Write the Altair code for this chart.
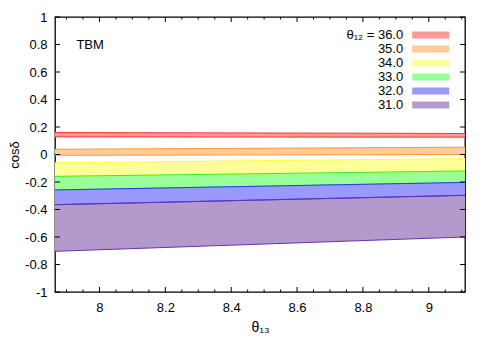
import altair as alt
import pandas as pd

# ---- data ----
theta13 = [7.865, 9.11]                      # x at left / right edge of the plot
bands = ["36.0", "35.0", "34.0", "33.0", "32.0", "31.0"]   # theta12 values
hi_left  = [0.160, 0.038, -0.060, -0.159, -0.258, -0.365]
hi_right = [0.153, 0.053, -0.030, -0.120, -0.203, -0.297]
lo_left  = [0.128, -0.006, -0.159, -0.258, -0.365, -0.704]
lo_right = [0.126, 0.000, -0.120, -0.203, -0.297, -0.600]

y_ticks = [-1.0, -0.8, -0.6, -0.4, -0.2, 0.0, 0.2, 0.4, 0.6, 0.8, 1.0]
x_major = [8.0, 8.2, 8.4, 8.6, 8.8, 9.0]
x_minor = [7.9, 7.95, 8.05, 8.1, 8.15, 8.25, 8.3, 8.35, 8.45, 8.5, 8.55,
           8.65, 8.7, 8.75, 8.85, 8.9, 8.95, 9.05, 9.1]

# ---- styles ----
fill_colors = ["#ff9999", "#ffcc99", "#ffff99", "#99ff99", "#9999ff", "#b399cc"]
line_colors = ["#ff3333", "#ff9933", "#ffff33", "#33ee33", "#3333ff", "#6633aa"]
FONT = "Liberation Sans"
W, H = 410, 275

rows = []
for i, b in enumerate(bands):
    rows.append({"x": theta13[0], "hi": hi_left[i], "lo": lo_left[i], "band": b})
    rows.append({"x": theta13[1], "hi": hi_right[i], "lo": lo_right[i], "band": b})
df = pd.DataFrame(rows)

xs = alt.Scale(domain=[theta13[0], theta13[1]], nice=False, zero=False)
ys = alt.Scale(domain=[-1, 1], nice=False, zero=False)

x_axis = alt.Axis(values=x_major, format="~g", ticks=False, domain=False, grid=False,
                  labelOverlap=False,
                  labelFontSize=13, labelFont=FONT, labelPadding=9, labelColor="black",
                  title="θ₁₃", titleFont=FONT, titleFontSize=14, titleFontWeight="normal",
                  titlePadding=6, titleColor="black")
y_axis = alt.Axis(values=y_ticks, ticks=False, domain=False, grid=False,
                  labelOverlap=False,
                  labelExpr="toString(round(datum.value*10)/10)",
                  labelFontSize=13, labelFont=FONT, labelPadding=8, labelColor="black",
                  title="cosδ", titleFont=FONT, titleFontSize=13, titleFontWeight="normal",
                  titleX=-40.5, titleY=H / 2, titleBaseline="middle", titleAngle=270,
                  titleColor="black")

# swatches only (fill legend)
swatch_legend = alt.Legend(orient="none", legendX=365.75, legendY=8, title=None, padding=0,
                           symbolType="M-1.9,-0.36L1.9,-0.36L1.9,0.36L-1.9,0.36Z",
                           symbolSize=380, symbolStrokeWidth=0, symbolOpacity=1,
                           labelFontSize=1, labelExpr="''", rowPadding=0)
# labels only (stroke legend)
label_legend = alt.Legend(orient="none", legendX=368.6, legendY=10.9, title=None, padding=0,
                          symbolType="M-2.685,-0.508L2.685,-0.508L2.685,0.508L-2.685,0.508Z",
                          symbolSize=190, symbolStrokeWidth=0, symbolOpacity=0,
                          labelAlign="right", labelOffset=alt.ExprRef("-34.4"),
                          labelFontSize=13, labelFont=FONT, labelColor="black",
                          rowPadding=0, clipHeight=13.8,
                          labelExpr="datum.label == '36.0' ? 'θ₁₂ = 36.0' : datum.label")

X = lambda f: alt.X(f, scale=xs, axis=x_axis)
Y = lambda f: alt.Y(f, scale=ys, axis=y_axis, stack=None)

base = alt.Chart(df)
area = base.mark_area(opacity=1).encode(
    x=X("x:Q"), y=Y("hi:Q"), y2="lo:Q",
    fill=alt.Fill("band:N", scale=alt.Scale(domain=bands, range=fill_colors),
                  legend=swatch_legend),
)
line_lo = base.mark_line(strokeWidth=1).encode(
    x=X("x:Q"), y=Y("lo:Q"),
    stroke=alt.Stroke("band:N", scale=alt.Scale(domain=bands, range=line_colors), legend=None),
)
line_hi = base.mark_line(strokeWidth=1).encode(
    x=X("x:Q"), y=Y("hi:Q"),
    stroke=alt.Stroke("band:N", scale=alt.Scale(domain=bands, range=line_colors),
                      legend=label_legend),
)

label = alt.Chart(pd.DataFrame({"x": [7.93], "y": [0.8], "t": ["TBM"]})).mark_text(
    align="left", baseline="middle", fontSize=13, font=FONT, color="black"
).encode(x=X("x:Q"), y=Y("y:Q"), text="t:N")

# inward ticks (gnuplot style), on all four sides
ydf = pd.DataFrame({"v": y_ticks})
yt_left = alt.Chart(ydf).mark_rule(color="black", strokeWidth=1).encode(
    y=Y("v:Q"), x=alt.value(0), x2=alt.value(5))
yt_right = alt.Chart(ydf).mark_rule(color="black", strokeWidth=1).encode(
    y=Y("v:Q"), x=alt.value(W - 5), x2=alt.value(W))
xmaj = pd.DataFrame({"v": x_major})
xmin = pd.DataFrame({"v": x_minor})
xt_bot = alt.Chart(xmaj).mark_rule(color="black", strokeWidth=1).encode(
    x=X("v:Q"), y=alt.value(H), y2=alt.value(H - 5))
xt_top = alt.Chart(xmaj).mark_rule(color="black", strokeWidth=1).encode(
    x=X("v:Q"), y=alt.value(0), y2=alt.value(5))
xm_bot = alt.Chart(xmin).mark_rule(color="black", strokeWidth=1).encode(
    x=X("v:Q"), y=alt.value(H), y2=alt.value(H - 2.5))
xm_top = alt.Chart(xmin).mark_rule(color="black", strokeWidth=1).encode(
    x=X("v:Q"), y=alt.value(0), y2=alt.value(2.5))

chart = alt.layer(area, line_lo, line_hi, label, yt_left, yt_right,
                  xt_bot, xt_top, xm_bot, xm_top).resolve_scale(
    fill="independent", stroke="independent"
).properties(
    width=W, height=H,
    autosize=alt.AutoSizeParams(type="none"),
    padding={"left": 47, "top": 9, "right": 25, "bottom": 50},
    background="white",
).configure_view(stroke="black", strokeWidth=1.3)

chart.save("out.html", embed_options={"renderer": "svg", "actions": False})
